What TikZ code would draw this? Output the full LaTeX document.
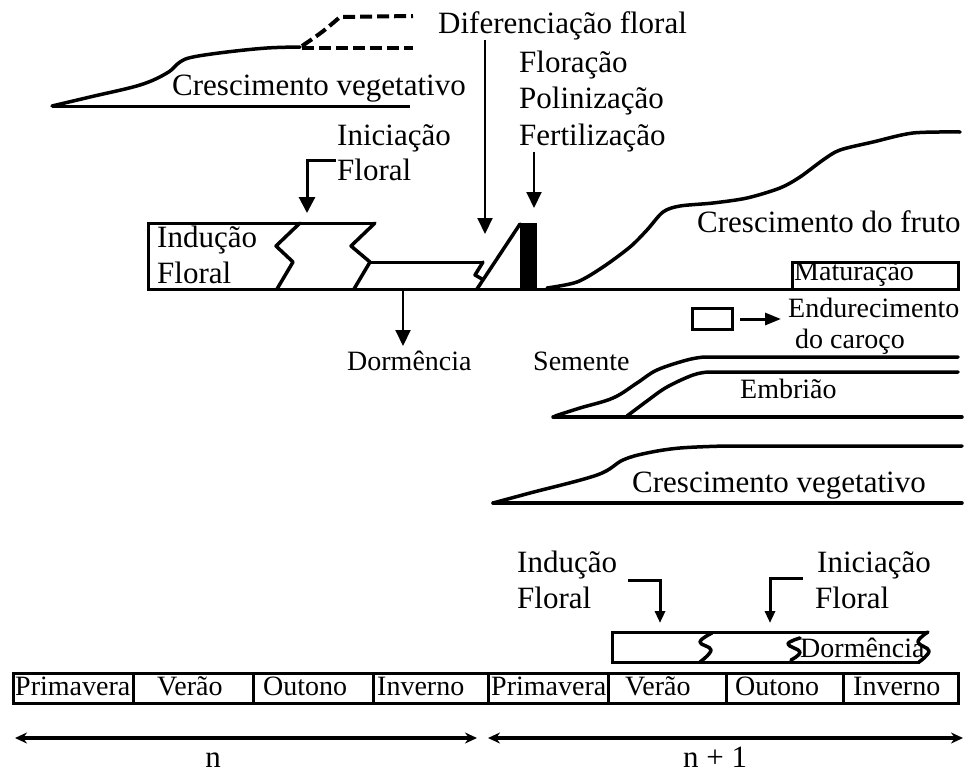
\documentclass[tikz,border=0pt]{standalone}
\usepackage{fontspec}
\setmainfont{Liberation Serif}
\usetikzlibrary{arrows.meta}
\begin{document}
\begin{tikzpicture}[x=1pt,y=-1pt,
  big/.style={font=\fontsize{31}{36}\selectfont, inner sep=0pt, anchor=base west},
  small/.style={font=\fontsize{28}{33}\selectfont, inner sep=0pt, anchor=base west},
  thickline/.style={line width=3pt, line join=miter},
  curve/.style={line width=3.5pt, line join=round, line cap=round},
  arr/.style={line width=2pt, -{Triangle[length=16pt,width=15pt]}},
  smallarr/.style={line width=3pt, -{Triangle[length=12pt,width=10pt]}},
  bracketarr/.style={line width=3pt, -{Triangle[length=16pt,width=16pt]}},
  dashline/.style={line width=4pt, dash pattern=on 12pt off 5pt},
  tl/.style={line width=3.5pt, {Stealth[length=12pt,width=11pt]}-{Stealth[length=12pt,width=11pt]}}
]
\useasboundingbox (0,0) rectangle (968,774);

% ---------- top vegetative growth ----------
\draw[thickline] (52,106) -- (410,106);
\draw[curve] plot[smooth, tension=0.6] coordinates {(52,106) (90,97) (140,85) (167,73) (180,62) (193,57) (227,52) (267,48) (300,47)};
\draw[dashline] (302,48) -- (413,48);
\draw[dashline] plot[smooth, tension=0.6] coordinates {(302,46) (322,32) (340,17)} -- (413,16);
\node[big] (cveg1) at (172,95) {Crescimento vegetativo};

% ---------- labels top ----------
\node[big] (difer) at (438,33) {Diferenciação floral};
\coordinate (diferS) at (485,40);
\coordinate (diferE) at (485,234);
\draw[arr] (diferS) -- (diferE);

\node[big] (flor) at (519,72) {Floração};
\node[big] (polin) at (519,108) {Polinização};
\node[big] (fert) at (519,145) {Fertilização};
\coordinate (fertS) at (534,152);
\coordinate (fertE) at (534,208);
\draw[arr] (fertS) -- (fertE);

\node[big] (inic1) at (337,145) {Iniciação};
\node[big] (inic1b) at (337,180) {Floral};
\coordinate (inicS) at (336,160);
\coordinate (inicE) at (307,213);
\draw[bracketarr] (inicS) -- (inicE |- inicS) -- (inicE);

% ---------- main box ----------
\draw[thickline] (375,223) -- (148,223) -- (148,289) -- (960,289);
\draw[curve] (300,223) -- (276,246) -- (293,262) -- (277,289);
\draw[curve] (375,223) -- (351,246) -- (370,262) -- (354,289);
\draw[thickline] (370,262) -- (483,262);
\draw[curve] (483,262) -- (475,275) -- (482,279);
\draw[curve] (477,289) -- (520,224);
\fill (520,223) rectangle (537,289);
\node[big] (ind1) at (157,247) {Indução};
\node[big] (ind1b) at (157,283) {Floral};

% ---------- fruit growth ----------
\draw[curve] plot[smooth, tension=0.5] coordinates {(547,288) (577,282) (603,267) (630,247) (647,230) (663,212) (680,206) (713,203) (747,198) (780,188) (800,177) (823,160) (840,150) (873,142) (913,133) (960,132)};
\node[big] (fruto) at (697,232) {Crescimento do fruto};
\draw[thickline] (792,262) rectangle (958,289);
\node[small] (matur) at (794,280) {Maturação};

% ---------- dormancy ----------
\coordinate (dormS) at (403,289);
\coordinate (dormE) at (403,346);
\draw[arr] (dormS) -- (dormE);
\node[small] (dorm1) at (347,370) {Dormência};

% ---------- pit hardening ----------
\draw[thickline] (692,308) rectangle (732,329);
\coordinate (endS) at (740,319);
\coordinate (endE) at (781,319);
\draw[line width=3pt, -{Triangle[length=16pt,width=12pt]}] (endS) -- (endE);
\node[small] (endur) at (788,317) {Endurecimento};
\node[small] (caroco) at (795,348) {do caroço};

% ---------- seed / embryo ----------
\node[small] (sem) at (533,370) {Semente};
\draw[curve] plot[smooth, tension=0.6] coordinates {(555,416) (580,408) (613,398) (637,383) (657,370) (687,360) (704,357)} -- (958,357);
\draw[curve] plot[smooth, tension=0.6] coordinates {(627,416) (647,401) (667,387) (693,375) (708,372)} -- (958,372);
\draw[curve] (553,417) -- (962,417);
\node[small] (embr) at (740,398) {Embrião};

% ---------- lower vegetative growth ----------
\draw[curve] plot[smooth, tension=0.6] coordinates {(493,503) (530,493) (597,475) (623,460) (647,453) (680,448) (725,446)} -- (962,446);
\draw[curve] (493,503) -- (962,503);
\node[big] (cveg2) at (632,492) {Crescimento vegetativo};

% ---------- next-year induction / initiation ----------
\node[big] (ind2) at (517,572) {Indução};
\node[big] (ind2b) at (517,608) {Floral};
\node[big] (inic2) at (817,572) {Iniciação};
\node[big] (inic2b) at (815,608) {Floral};
\coordinate (ind2S) at (628,580);
\coordinate (ind2E) at (660,623);
\draw[smallarr] (ind2S) -- (ind2E |- ind2S) -- (ind2E);
\coordinate (inic2S) at (803,578);
\coordinate (inic2E) at (770,623);
\draw[smallarr] (inic2S) -- (inic2E |- inic2S) -- (inic2E);

\node[small] (dorm2) at (800,657) {Dormência};
\draw[thickline] (928,632) -- (612,632) -- (612,662) -- (920,662);
\draw[curve] plot[smooth, tension=0.7] coordinates {(928,632) (918,642) (929,651) (919,662)};
\draw[curve] plot[smooth, tension=0.7] coordinates {(712,633) (700,642) (711,650) (700,662)};
\draw[curve] plot[smooth, tension=0.7] coordinates {(800,638) (788,644) (800,652) (791,660)};

% ---------- seasons ----------
\draw[thickline] (13,673) rectangle (958,703);
\foreach \xx in {133,253,373,488,608,726,843} \draw[thickline] (\xx,673) -- (\xx,703);
\node[small] (s1) at (15,695) {Primavera};
\node[small] (s2) at (157,695) {Verão};
\node[small] (s3) at (263,695) {Outono};
\node[small] (s4) at (377,695) {Inverno};
\node[small] (s5) at (491,695) {Primavera};
\node[small] (s6) at (625,695) {Verão};
\node[small] (s7) at (735,695) {Outono};
\node[small] (s8) at (853,695) {Inverno};

% ---------- years ----------
\coordinate (y1a) at (15,738);
\coordinate (y1b) at (477,738);
\coordinate (y2a) at (488,738);
\coordinate (y2b) at (963,738);
\draw[tl] (y1a) -- (y1b);
\draw[tl] (y2a) -- (y2b);
\node[font=\fontsize{31}{36}\selectfont, inner sep=0pt, anchor=base] (n1) at (213,767) {n};
\node[font=\fontsize{31}{36}\selectfont, inner sep=0pt, anchor=base] (n2) at (715,767) {n + 1};
\end{tikzpicture}
\end{document}
